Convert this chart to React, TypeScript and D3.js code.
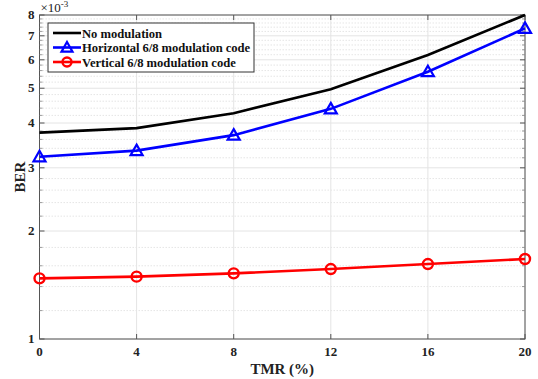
import React from 'react';
import * as d3 from 'd3';

// TMR values on the x axis
const tmr = [0, 4, 8, 12, 16, 20];
// BER in units of 1e-3
const noMod = [3.76, 3.87, 4.26, 4.97, 6.19, 8.0];
const horizontal = [3.22, 3.35, 3.70, 4.38, 5.56, 7.34];
const vertical = [1.476, 1.492, 1.524, 1.567, 1.618, 1.671];

const xTicks = [0, 4, 8, 12, 16, 20];
const yTicks = [1, 2, 3, 4, 5, 6, 7, 8];
const legendLabels = ['No modulation', 'Horizontal 6/8 modulation code', 'Vertical 6/8 modulation code'];

const W = 538;
const H = 379;
const margin = { top: 15, right: 13, bottom: 40, left: 39.5 };
const FONT = '"Liberation Serif", "Times New Roman", serif';

export default function App() {
  const x = d3.scaleLinear().domain([0, 20]).range([margin.left, W - margin.right]);
  const y = d3.scaleLog().domain([1, 8]).range([H - margin.bottom, margin.top]);

  // minor grid every 0.2 between majors
  const minor: number[] = [];
  for (let v = 1; v < 8; v++) {
    for (let k = 1; k < 5; k++) minor.push(v + k * 0.2);
  }

  const line = d3.line<number>()
    .x((_, i) => x(tmr[i]))
    .y(d => y(d));

  const x0 = x(0), x1 = x(20), y0 = y(1), y1 = y(8);
  const tri = (cx: number, cy: number, s = 6) =>
    `M${cx},${cy - s}L${cx + s},${cy + s * 0.75}L${cx - s},${cy + s * 0.75}Z`;

  const colors = ['#000000', '#0000ff', '#ff0000'];

  return (
    <svg width={W} height={H} style={{ position: 'absolute', left: 0, top: 0, background: '#fff' }}
      fontFamily={FONT}>
      {/* minor grid */}
      {minor.map(v => (
        <line key={'m' + v} x1={x0} x2={x1} y1={y(v)} y2={y(v)}
          stroke="#dadada" strokeWidth={0.7} strokeDasharray="1.5,1.5" />
      ))}
      {/* major grid */}
      {yTicks.map(v => (
        <line key={'gy' + v} x1={x0} x2={x1} y1={y(v)} y2={y(v)} stroke="#e4e4e4" strokeWidth={1} />
      ))}
      {xTicks.map(v => (
        <line key={'gx' + v} x1={x(v)} x2={x(v)} y1={y0} y2={y1} stroke="#e4e4e4" strokeWidth={1} />
      ))}

      {/* axes box */}
      <rect x={x0} y={y1} width={x1 - x0} height={y0 - y1} fill="none" stroke="#555" strokeWidth={1} />
      {xTicks.map(v => (
        <g key={'tx' + v}>
          <line x1={x(v)} x2={x(v)} y1={y0} y2={y0 - 5} stroke="#555" />
          <line x1={x(v)} x2={x(v)} y1={y1} y2={y1 + 5} stroke="#555" />
          <text x={x(v)} y={y0 + 17} textAnchor="middle" fontSize={13} fontWeight="bold" fill="#222">{v}</text>
        </g>
      ))}
      {yTicks.map(v => (
        <g key={'ty' + v}>
          <line x1={x0} x2={x0 + 5} y1={y(v)} y2={y(v)} stroke="#555" />
          <line x1={x1} x2={x1 - 5} y1={y(v)} y2={y(v)} stroke="#555" />
          <text x={x0 - 5} y={y(v) + 4} textAnchor="end" fontSize={13} fontWeight="bold" fill="#222">{v}</text>
        </g>
      ))}
      {minor.map(v => (
        <g key={'mt' + v}>
          <line x1={x0} x2={x0 + 3} y1={y(v)} y2={y(v)} stroke="#888" strokeWidth={0.8} />
          <line x1={x1} x2={x1 - 3} y1={y(v)} y2={y(v)} stroke="#888" strokeWidth={0.8} />
        </g>
      ))}

      {/* exponent */}
      <text x={x0 + 1} y={y1 - 3} fontSize={13} fill="#222">
        ×10<tspan dy={-5} fontSize={9}>-3</tspan>
      </text>

      {/* axis labels */}
      <text x={(x0 + x1) / 2} y={H - 5} textAnchor="middle" fontSize={15} fontWeight="bold" fill="#222">TMR (%)</text>
      <text transform={`translate(${25},${(y0 + y1) / 2}) rotate(-90)`} textAnchor="middle"
        fontSize={15} fontWeight="bold" fill="#222">BER</text>

      {/* series */}
      <path d={line(noMod) || ''} fill="none" stroke={colors[0]} strokeWidth={2.6} />
      <path d={line(horizontal) || ''} fill="none" stroke={colors[1]} strokeWidth={2.6} />
      <path d={line(vertical) || ''} fill="none" stroke={colors[2]} strokeWidth={2.6} />
      {horizontal.map((d, i) => (
        <path key={'h' + i} d={tri(x(tmr[i]), y(d))} fill="none" stroke={colors[1]} strokeWidth={2.2} />
      ))}
      {vertical.map((d, i) => (
        <circle key={'v' + i} cx={x(tmr[i])} cy={y(d)} r={5} fill="none" stroke={colors[2]} strokeWidth={2.4} />
      ))}

      {/* legend */}
      <g>
        <rect x={48} y={23} width={206} height={49} fill="#fff" stroke="#333" strokeWidth={1} />
        {legendLabels.map((lab, i) => {
          const ly = 33 + i * 14.5;
          return (
            <g key={lab}>
              <line x1={53} x2={81} y1={ly} y2={ly} stroke={colors[i]} strokeWidth={2.6} />
              {i === 1 && <path d={tri(67, ly, 5.5)} fill="none" stroke={colors[1]} strokeWidth={2.2} />}
              {i === 2 && <circle cx={67} cy={ly} r={4.5} fill="none" stroke={colors[2]} strokeWidth={2.4} />}
              <text x={82} y={ly + 4.5} fontSize={12.6} fontWeight="bold" fill="#111"
                textLength={i === 1 ? 168 : undefined}>{lab}</text>
            </g>
          );
        })}
      </g>
    </svg>
  );
}
